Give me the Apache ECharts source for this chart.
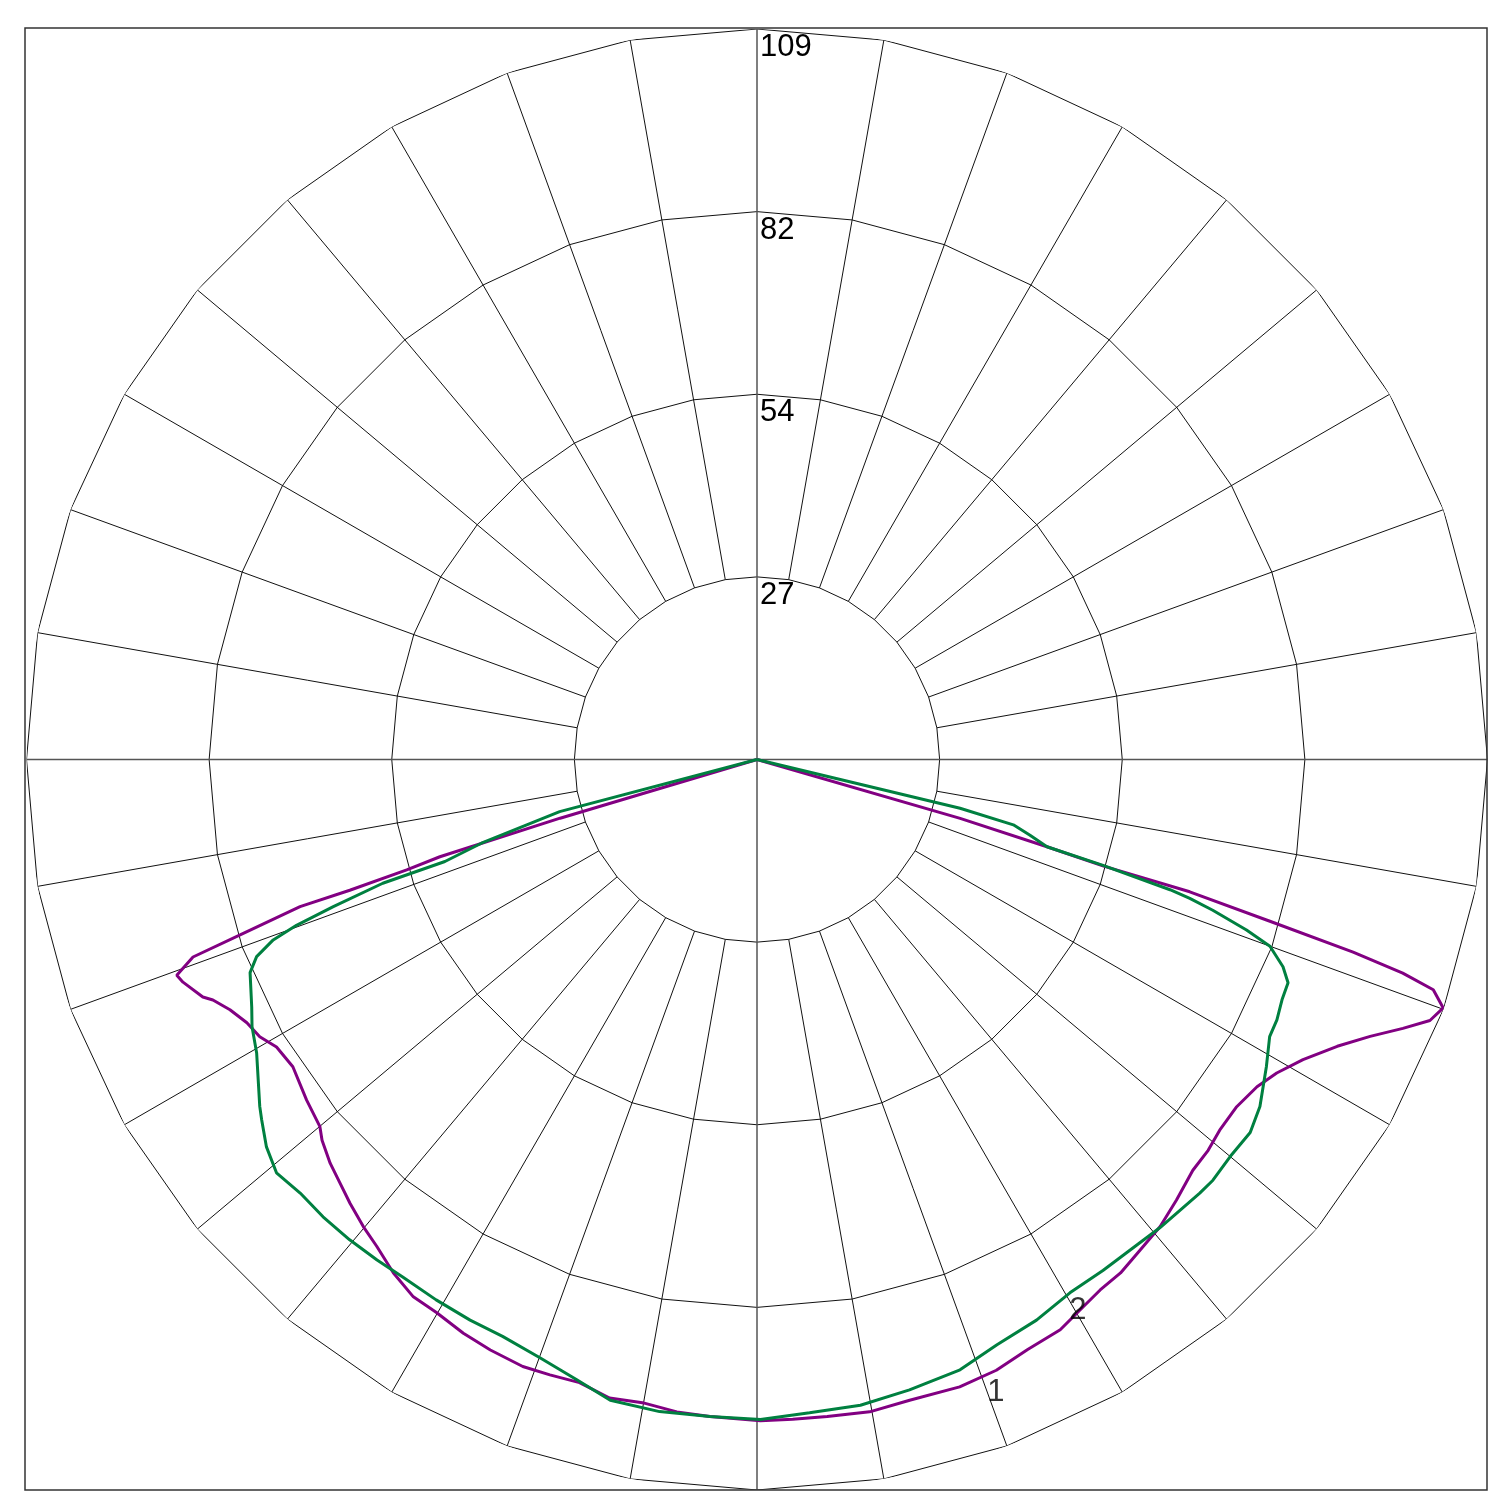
<!DOCTYPE html>
<html>
<head>
<meta charset="utf-8">
<script src="https://cdn.jsdelivr.net/npm/echarts@6/dist/echarts.min.js"></script>
<style>
html,body{margin:0;padding:0;background:#fff;}
#chart{width:1500px;height:1507px;}
</style>
</head>
<body>
<div id="chart"></div>
<script>
// ---- data (angle in degrees from nadir, positive to the right; value = intensity) ----
const ringValues = [27.2, 54.4, 81.6, 108.8];
const tickLabels = ['27', '54', '82', '109'];
const spokeAngles = [0,10,20,30,40,50,60,70,80,90,100,110,120,130,140,150,160,170,
                     180,190,200,210,220,230,240,250,260,270,280,290,300,310,320,330,340,350,360];

const curve1Angles = [-90,-73.4,-72.95,-72.5,-72.2,-72.15,-71.25,-70.7,-69.6,-68.8,-66.8,-66.15,-64.6,-62.7,-60.85,-59.1,-56.5,-52.9,-50.0,-48.8,-46.6,-44.6,-42.5,-40.1,-38.0,-35.3,-32.6,-30.1,-27.1,-24.3,-21.1,-18.6,-15.9,-13.0,-10.1,-7.0,-4.1,0.3,3.1,6.1,9.8,13.4,17.9,21.4,24.6,28.0,30.8,32.9,35.3,38.0,40.8,43.6,46.7,49.1,51.3,54.1,56.8,58.9,61.2,63.7,65.7,67.4,68.8,70.1,71.2,71.7,72.1,72.5,73.0,72.9,73.25,73.85,90];
const curve1Values = [0,30.6,49.4,54.7,63.7,71.5,81.3,89.0,92.2,91.7,89.8,88.6,86.9,85.5,84.8,83.4,82.9,84.1,85.0,86.1,87.5,88.5,89.7,91.0,92.0,93.7,95.0,95.2,96.0,96.5,96.9,96.7,96.5,97.6,97.3,97.9,98.1,98.5,98.4,98.4,98.6,98.1,98.2,97.7,96.7,96.2,94.9,94.1,93.7,92.7,91.9,90.6,89.2,88.9,88.3,88.2,89.0,90.4,92.8,96.4,100.2,104.2,107.5,108.7,106.4,101.3,93.3,80.1,67.4,53.9,45.1,31.5,0];

const curve2Angles = [-90,-75.2,-73.1,-71.9,-71.7,-70.85,-70.2,-69.55,-68.5,-67.2,-63.9,-62.1,-59.6,-55.1,-54.0,-51.7,-49.3,-46.5,-43.5,-40.3,-37.2,-34.4,-30.7,-27.1,-23.8,-19.9,-16.2,-12.9,-8.5,-4.1,0.3,4.6,9.1,13.6,18.4,22.3,26.5,30.4,34.1,36.8,40.7,45.6,47.3,50.0,52.9,55.4,58.9,61.6,63.4,65.4,67.2,68.5,70.0,70.8,71.7,72.2,72.5,73.0,73.25,74.5,75.7,76.5,90];
const curve2Values = [0,30.4,42.9,48.9,58.7,66.8,72.9,76.9,80.1,81.9,83.8,85.1,86.4,90.3,91.2,93.1,94.4,93.8,93.9,93.8,93.6,93.4,93.6,93.8,93.9,94.8,96.2,97.9,98.2,98.1,98.3,97.6,97.4,96.6,95.8,94.2,93.3,92.1,91.9,91.8,92.0,92.3,92.4,92.0,92.1,91.0,88.6,86.8,86.6,86.0,85.8,84.2,81.3,77.2,71.5,67.7,64.5,53.9,45.1,42.2,39.4,31.1,0];

const curveNames = ['1', '2'];
const curveLabelAngles = [20.7, 30.2];
const curveLabelValues = [100.7, 95.0];

// ---- helpers ----
const toAxisAngle = a => 180 - a;   // nadir at bottom, positive angles to the right
const pairs = (angles, values) => angles.map((a, i) => [values[i], toAxisAngle(a)]);

const FONT = 'Arial, "Liberation Sans", sans-serif';
const rMax = ringValues[ringValues.length - 1];
const rMin = ringValues[0];

const series = [];

// rings (straight-sided polygons between spokes)
ringValues.forEach(rv => {
  series.push({
    type: 'line', coordinateSystem: 'polar', silent: true, symbol: 'none',
    animation: false, z: 1,
    lineStyle: { color: '#111', width: 1 },
    data: spokeAngles.map(a => [rv, a])
  });
});

// spokes
spokeAngles.slice(0, 36).forEach(a => {
  const main = a % 90 === 0;
  series.push({
    type: 'line', coordinateSystem: 'polar', silent: true, symbol: 'none',
    animation: false, z: 1,
    lineStyle: { color: main ? '#555' : '#111', width: main ? 1.5 : 1 },
    data: [[main ? 0 : rMin, a], [rMax, a]]
  });
});

// curves
series.push({
  name: curveNames[0], type: 'line', coordinateSystem: 'polar', symbol: 'none',
  animation: false, z: 5,
  lineStyle: { color: '#820082', width: 3 },
  data: pairs(curve1Angles, curve1Values)
});
series.push({
  name: curveNames[1], type: 'line', coordinateSystem: 'polar', symbol: 'none',
  animation: false, z: 5,
  lineStyle: { color: '#008040', width: 3 },
  data: pairs(curve2Angles, curve2Values)
});

// curve number labels
series.push({
  type: 'scatter', coordinateSystem: 'polar', symbolSize: 0, silent: true,
  animation: false, z: 6,
  data: curveNames.map((n, i) => ({ value: [curveLabelValues[i], toAxisAngle(curveLabelAngles[i])], name: n })),
  label: {
    show: true, position: 'inside', formatter: p => p.name,
    color: '#000', fontSize: 31, fontFamily: FONT
  }
});

const chart = echarts.init(document.getElementById('chart'), null, { renderer: 'canvas' });
chart.setOption({
  backgroundColor: '#fff',
  animation: false,
  polar: { center: [757, 759.5], radius: 730.5 },
  angleAxis: {
    type: 'value', min: 0, max: 360, interval: 10, startAngle: 90, clockwise: true,
    axisLine: { show: false }, axisTick: { show: false }, axisLabel: { show: false },
    splitLine: { show: false }
  },
  radiusAxis: {
    type: 'value', min: 0, max: rMax, interval: ringValues[0],
    axisLine: { show: false }, axisTick: { show: false }, splitLine: { show: false },
    axisLabel: {
      show: true, showMinLabel: false, showMaxLabel: true,
      margin: 0, align: 'left', verticalAlign: 'top', padding: [3, 0, 0, 3],
      color: '#000', fontSize: 31, fontFamily: FONT,
      formatter: v => {
        const i = ringValues.findIndex(r => Math.abs(r - v) < 0.01);
        return i >= 0 ? tickLabels[i] : '';
      }
    }
  },
  graphic: [{
    type: 'rect', silent: true, z: 10,
    shape: { x: 25, y: 28, width: 1462, height: 1462 },
    style: { fill: 'none', stroke: '#333', lineWidth: 1.5 }
  }],
  series: series
});
</script>
</body>
</html>
